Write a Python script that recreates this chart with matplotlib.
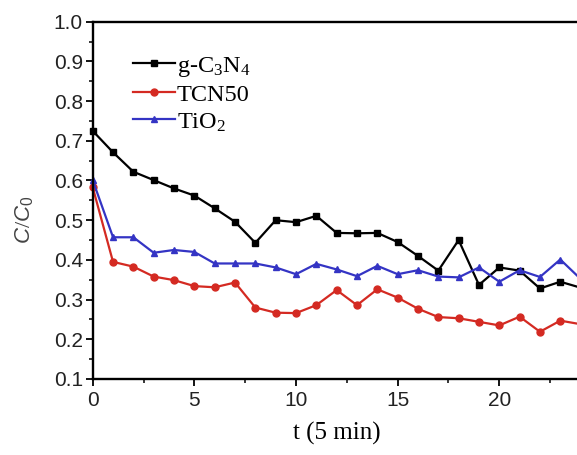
"""
Photodegradation curves C/C0 vs time for g-C3N4, TCN50 and TiO2.
"""

import matplotlib
matplotlib.use("Agg")
import matplotlib.pyplot as plt
from matplotlib.ticker import MultipleLocator
import numpy as np

plt.rcParams["mathtext.fontset"] = "custom"
plt.rcParams["mathtext.rm"] = "Liberation Serif"
plt.rcParams["mathtext.it"] = "Liberation Sans:italic"
plt.rcParams["mathtext.sf"] = "Liberation Sans"

# ---- data ----
t = np.arange(25)

gcn = [0.725, 0.671, 0.622, 0.601, 0.580, 0.562, 0.530, 0.496, 0.443, 0.500,
       0.495, 0.511, 0.468, 0.467, 0.468, 0.445, 0.410, 0.373, 0.450, 0.337,
       0.381, 0.373, 0.328, 0.345, 0.330]
tcn50 = [0.583, 0.395, 0.383, 0.358, 0.349, 0.334, 0.331, 0.343, 0.280, 0.267,
         0.266, 0.286, 0.324, 0.286, 0.326, 0.305, 0.277, 0.256, 0.253, 0.244,
         0.235, 0.257, 0.219, 0.247, 0.238]
tio2 = [0.601, 0.457, 0.457, 0.418, 0.425, 0.420, 0.391, 0.391, 0.391, 0.381,
        0.364, 0.390, 0.376, 0.359, 0.385, 0.364, 0.374, 0.358, 0.356, 0.381,
        0.345, 0.374, 0.357, 0.401, 0.352]

series = [
    ("g-C$_3$N$_4$", gcn, "black", "s"),
    ("TCN50", tcn50, "#d42a22", "o"),
    ("TiO$_2$", tio2, "#3434c4", "^"),
]

W, H = 577, 455
fig = plt.figure(figsize=(W / 100, H / 100), dpi=100)

# axes runs off the right edge of the picture, as in the reference
x0, y_top, y_bot, px_per_unit = 92.7, 21.7, 379.0, 20.33
ax = fig.add_axes([x0 / W, 1 - y_bot / H, 25 * px_per_unit / W, (y_bot - y_top) / H])

for label, vals, color, marker in series:
    ax.plot(t, vals, color=color, marker=marker, ms=5, lw=1.6, label=label,
            clip_on=False)

ax.set_xlim(0, 25)
ax.set_ylim(0.1, 1.0)
ax.set_xticks([0, 5, 10, 15, 20])
ax.xaxis.set_minor_locator(MultipleLocator(2.5))
ax.yaxis.set_major_locator(MultipleLocator(0.1))
ax.yaxis.set_minor_locator(MultipleLocator(0.05))

for s in ax.spines.values():
    s.set_linewidth(1.7)
ax.spines["right"].set_visible(False)

ax.tick_params(which="major", direction="out", length=5, width=1.3,
               labelsize=15, top=False, right=False)
ax.tick_params(which="minor", direction="out", length=3, width=1.1,
               top=False, right=False)
ax.tick_params(axis="y", pad=2)
ax.tick_params(axis="x", pad=4)
for lbl in ax.get_xticklabels() + ax.get_yticklabels():
    lbl.set_fontfamily("Liberation Sans")
    lbl.set_color("#222222")

leg = ax.legend(loc="upper left", bbox_to_anchor=(0.079, 0.907), frameon=False,
                prop={"family": "Liberation Serif", "size": 17.5},
                handlelength=1.75, handletextpad=0.05, labelspacing=0.2,
                borderaxespad=0, borderpad=0)

fig.text(337 / W, 1 - 433 / H, "t (5 min)", ha="center", va="center",
         fontsize=18, family="Liberation Serif")
fig.text(25 / W, 1 - 220 / H, r"$\mathit{C/C}_\mathsf{0}$", rotation=90,
         ha="center", va="center", fontsize=16, color="#444444")

fig.savefig("out.png", dpi=100)
